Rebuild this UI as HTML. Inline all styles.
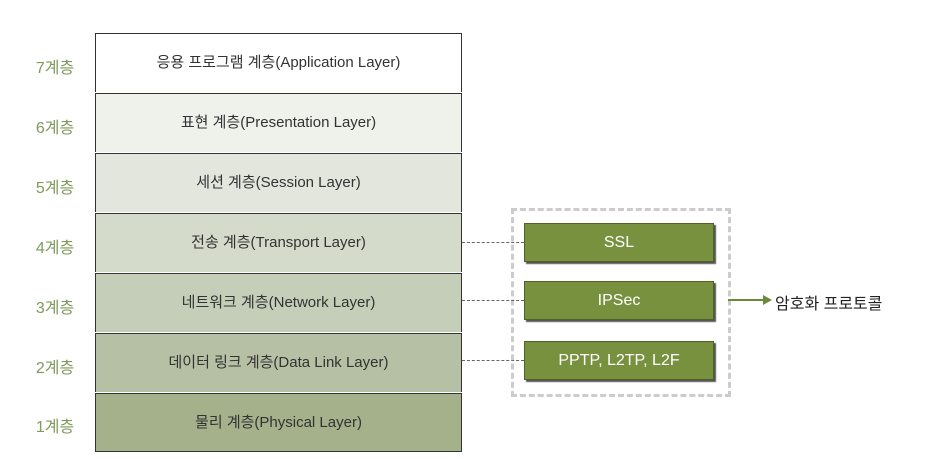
<!DOCTYPE html>
<html><head><meta charset="utf-8"><style>
body{margin:0;width:940px;height:476px;background:#fff;font-family:"Liberation Sans","Noto Sans CJK KR",sans-serif;position:relative;overflow:hidden}
.lbl{position:absolute;left:20px;width:70px;text-align:center;color:#7f9a5a;font-size:16px}
.row{position:absolute;left:95px;width:365px;height:58px;border:1.5px solid #333;border-bottom:none;text-align:center;line-height:58px;font-size:15px;color:#333}
.g{position:absolute;left:524px;width:188px;height:37px;background:#77913f;border:1px solid #4e6228;box-shadow:2px 2px 1px #555;color:#fff;text-align:center;line-height:37px;font-size:16px}
.d{position:absolute;left:462px;width:62px;border-top:1.5px dashed #666}
</style></head><body>
<div class="row" style="top:33px;background:#fff">응용 프로그램 계층(Application Layer)</div>
<div class="row" style="top:93px;background:#eff1eb">표현 계층(Presentation Layer)</div>
<div class="row" style="top:153px;background:#e2e6dc">세션 계층(Session Layer)</div>
<div class="row" style="top:213px;background:#d4dbcb">전송 계층(Transport Layer)</div>
<div class="row" style="top:273px;background:#c4ceb8">네트워크 계층(Network Layer)</div>
<div class="row" style="top:333px;background:#b5c0a4">데이터 링크 계층(Data Link Layer)</div>
<div class="row" style="top:393px;background:#a4b18b;height:57px;border-bottom:1.5px solid #333">물리 계층(Physical Layer)</div>
<div class="lbl" style="top:54px">7계층</div>
<div class="lbl" style="top:114px">6계층</div>
<div class="lbl" style="top:174px">5계층</div>
<div class="lbl" style="top:234px">4계층</div>
<div class="lbl" style="top:294px">3계층</div>
<div class="lbl" style="top:354px">2계층</div>
<div class="lbl" style="top:413px">1계층</div>
<div style="position:absolute;left:511px;top:208px;width:214px;height:183px;border:3px dashed #ccc"></div>
<div class="d" style="top:242px"></div>
<div class="d" style="top:300px"></div>
<div class="d" style="top:360px"></div>
<div class="g" style="top:223px">SSL</div>
<div class="g" style="top:281px">IPSec</div>
<div class="g" style="top:341px">PPTP, L2TP, L2F</div>
<svg style="position:absolute;left:728px;top:293px" width="45" height="16"><line x1="0" y1="7" x2="36" y2="7" stroke="#6b8a3a" stroke-width="2"/><polygon points="35,2 44,7 35,12" fill="#6b8a3a"/></svg>
<div style="position:absolute;left:775px;top:290px;font-size:16px;color:#222">암호화 프로토콜</div>
</body></html>
